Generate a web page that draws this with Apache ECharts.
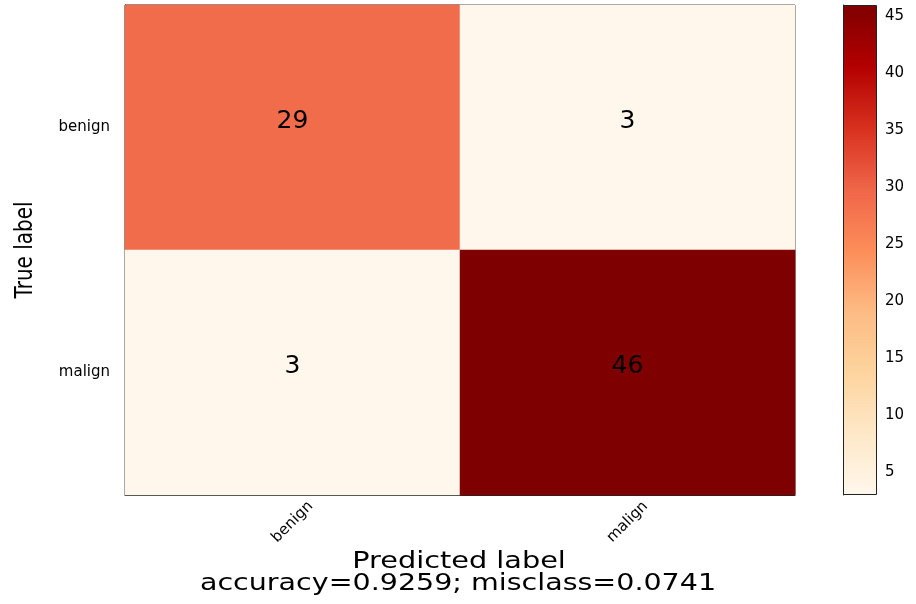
<!DOCTYPE html>
<html>
<head>
<meta charset="utf-8">
<script src="https://cdn.jsdelivr.net/npm/echarts@6/dist/echarts.min.js"></script>
<style>
  html, body { margin: 0; padding: 0; background: #fff; }
  #chart { width: 916px; height: 604px; }
</style>
</head>
<body>
<div id="chart"></div>
<script>
// confusion matrix values
const predictedLabels = ['benign', 'malign'];
const trueLabels = ['benign', 'malign'];
const counts = [
  [29, 3],   // true benign
  [3, 46]    // true malign
];
const colorbarTicks = [5, 10, 15, 20, 25, 30, 35, 40, 45];
const accuracyText = 'accuracy=0.9259; misclass=0.0741';

const orRd = ['#fff7ec', '#fee8c8', '#fdd49e', '#fdbb84', '#fc8d59', '#ef6548', '#d7301f', '#b30000', '#7f0000'];

const cells = [];
trueLabels.forEach((t, i) => {
  predictedLabels.forEach((p, j) => {
    cells.push([j, i, counts[i][j]]);
  });
});
const flat = counts.flat();
const vMin = Math.min(...flat);
const vMax = Math.max(...flat);

const chart = echarts.init(document.getElementById('chart'));

const option = {
  animation: false,
  textStyle: { fontFamily: 'DejaVu Sans', color: '#000' },
  grid: [
    { left: 125, top: 5, width: 670, height: 490, show: true, borderColor: '#222', borderWidth: 1 },
    { left: 843, top: 5, width: 34, height: 490, show: false }
  ],
  xAxis: [
    {
      type: 'category',
      gridIndex: 0,
      data: predictedLabels,
      axisLine: { lineStyle: { color: '#222' } },
      axisTick: { alignWithLabel: true, length: 5, lineStyle: { color: '#222' } },
      axisLabel: { rotate: 45, fontSize: 15, color: '#000', margin: 27, align: 'center', verticalAlign: 'middle' },
      splitLine: { show: false }
    },
    {
      type: 'value',
      gridIndex: 1,
      show: false
    }
  ],
  yAxis: [
    {
      type: 'category',
      gridIndex: 0,
      inverse: true,
      data: trueLabels,
      axisLine: { lineStyle: { color: '#222' } },
      axisTick: { alignWithLabel: true, length: 5, lineStyle: { color: '#222' } },
      axisLabel: { fontSize: 15, color: '#000', margin: 15 },
      splitLine: { show: false }
    },
    {
      type: 'value',
      gridIndex: 1,
      position: 'right',
      min: vMin,
      max: vMax,
      axisLine: { show: true, lineStyle: { color: '#222' } },
      axisTick: { show: true, length: 5, customValues: colorbarTicks, lineStyle: { color: '#222' } },
      axisLabel: { fontSize: 15, color: '#000', margin: 8, customValues: colorbarTicks },
      splitLine: { show: false }
    }
  ],
  visualMap: {
    type: 'continuous',
    seriesIndex: 0,
    min: vMin,
    max: vMax,
    calculable: false,
    orient: 'vertical',
    left: 843,
    top: 5,
    padding: 0,
    itemWidth: 34,
    itemHeight: 490,
    text: null,
    showLabel: false,
    borderWidth: 0,
    inRange: { color: orRd }
  },
  graphic: [
    {
      type: 'rect',
      x: 0,
      y: 0,
      shape: { x: 843.5, y: 5.5, width: 33, height: 489 },
      style: { fill: 'none', stroke: '#222', lineWidth: 1 },
      z: 10
    },
    {
      type: 'text',
      x: 26,
      y: 250,
      rotation: Math.PI / 2,
      scaleY: 1.2,
      style: {
        text: 'True label',
        font: '20px "DejaVu Sans"',
        fill: '#000',
        align: 'center',
        verticalAlign: 'middle'
      }
    },
    {
      type: 'text',
      x: 459,
      y: 562,
      scaleX: 1.25,
      style: {
        text: 'Predicted label',
        font: '23px "DejaVu Sans"',
        fill: '#000',
        align: 'center',
        verticalAlign: 'middle'
      }
    },
    {
      type: 'text',
      x: 458,
      y: 584,
      scaleX: 1.24,
      style: {
        text: accuracyText,
        font: '23px "DejaVu Sans"',
        fill: '#000',
        align: 'center',
        verticalAlign: 'middle'
      }
    }
  ],
  series: [
    {
      type: 'heatmap',
      xAxisIndex: 0,
      yAxisIndex: 0,
      data: cells,
      label: {
        show: true,
        fontSize: 25,
        color: '#000',
        fontFamily: 'DejaVu Sans',
        offset: [0, -6],
        formatter: p => p.value[2]
      },
      itemStyle: { borderWidth: 0 },
      emphasis: { disabled: true }
    }
  ]
};

chart.setOption(option);
</script>
</body>
</html>
